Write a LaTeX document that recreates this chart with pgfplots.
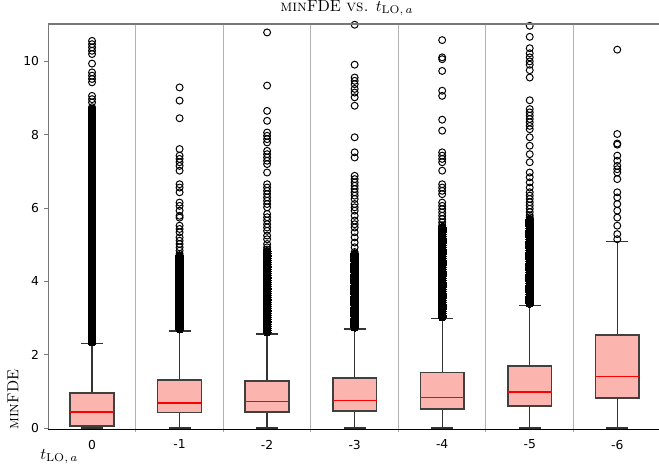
\documentclass[border=0pt]{standalone}
\usepackage{fontspec}
\usepackage{graphicx}
\usepackage{pgfplots}
\usepackage{pgfplotstable}
\pgfplotsset{compat=1.18}
\usepgfplotslibrary{statistics}
\newfontfamily\dejavu{DejaVu Sans}
\definecolor{boxfill}{RGB}{251,180,174}
\definecolor{spinegray}{RGB}{120,120,120}
\pgfplotsset{
  mybox/.style={
    black, mark=o, mark size=2.6pt,
    mark options={black, line width=0.75pt, solid},
  },
  dense/.style={
    only marks, mark=*, mark size=2.95pt,
    mark options={black, fill=black, line width=0pt},
  },
}
\pgfplotstableread[row sep=\\]{v\\
2.35\\2.40\\2.45\\2.50\\2.55\\2.60\\2.65\\2.70\\2.75\\2.80\\2.85\\2.90\\2.95\\3.00\\3.05\\3.10\\3.15\\3.20\\3.25\\3.30\\3.35\\3.40\\3.45\\3.50\\3.55\\3.60\\3.65\\3.70\\3.75\\3.80\\3.85\\3.90\\3.95\\4.00\\4.05\\4.10\\4.15\\4.20\\4.25\\4.30\\4.35\\4.40\\4.45\\4.50\\4.55\\4.60\\4.65\\4.70\\4.75\\4.80\\4.85\\4.90\\4.95\\5.00\\5.05\\5.10\\5.15\\5.20\\5.25\\5.30\\5.35\\5.40\\5.45\\5.50\\5.55\\5.60\\5.65\\5.70\\5.75\\5.80\\5.85\\5.90\\5.95\\6.00\\6.05\\6.10\\6.15\\6.20\\6.25\\6.30\\6.35\\6.40\\6.45\\6.50\\6.55\\6.60\\6.65\\6.70\\6.75\\6.80\\6.85\\6.90\\6.95\\7.00\\7.05\\7.10\\7.15\\7.20\\7.25\\7.30\\7.35\\7.40\\7.45\\7.50\\7.55\\7.60\\7.65\\7.70\\7.75\\7.80\\7.85\\7.90\\7.95\\8.00\\8.05\\8.10\\8.15\\8.20\\8.25\\8.30\\8.35\\8.40\\8.45\\8.50\\8.55\\8.60\\8.65\\8.70\\}\denseA
\pgfplotstableread[row sep=\\]{v\\
2.70\\2.75\\2.80\\2.85\\2.90\\2.95\\3.00\\3.05\\3.10\\3.15\\3.20\\3.25\\3.30\\3.35\\3.40\\3.45\\3.50\\3.55\\3.60\\3.65\\3.70\\3.75\\3.80\\3.85\\3.90\\3.95\\4.00\\4.05\\4.10\\4.15\\4.20\\4.25\\4.30\\4.35\\4.40\\4.45\\4.50\\4.55\\4.60\\4.65\\4.70\\}\denseB
\pgfplotstableread[row sep=\\]{v\\
2.62\\2.67\\2.72\\2.77\\2.82\\2.87\\2.92\\2.97\\3.02\\3.07\\3.12\\3.17\\3.22\\3.27\\3.32\\3.37\\3.42\\3.47\\3.52\\3.57\\3.62\\3.67\\3.72\\3.77\\3.82\\3.87\\3.92\\3.97\\4.02\\4.07\\4.12\\4.17\\4.22\\4.27\\4.32\\4.37\\4.42\\4.47\\4.52\\4.57\\4.62\\4.67\\4.72\\4.77\\4.82\\}\denseC
\pgfplotstableread[row sep=\\]{v\\
2.75\\2.80\\2.85\\2.90\\2.95\\3.00\\3.05\\3.10\\3.15\\3.20\\3.25\\3.30\\3.35\\3.40\\3.45\\3.50\\3.55\\3.60\\3.65\\3.70\\3.75\\3.80\\3.85\\3.90\\3.95\\4.00\\4.05\\4.10\\4.15\\4.20\\4.25\\4.30\\4.35\\4.40\\4.45\\4.50\\4.55\\4.60\\4.65\\4.70\\4.75\\}\denseD
\pgfplotstableread[row sep=\\]{v\\
3.03\\3.08\\3.13\\3.18\\3.23\\3.28\\3.33\\3.38\\3.43\\3.48\\3.53\\3.58\\3.63\\3.68\\3.73\\3.78\\3.83\\3.88\\3.93\\3.98\\4.03\\4.08\\4.13\\4.18\\4.23\\4.28\\4.33\\4.38\\4.43\\4.48\\4.53\\4.58\\4.63\\4.68\\4.73\\4.78\\4.83\\4.88\\4.93\\4.98\\5.03\\5.08\\5.13\\5.18\\5.23\\5.28\\5.33\\5.38\\5.43\\5.48\\}\denseE
\pgfplotstableread[row sep=\\]{v\\
3.40\\3.45\\3.50\\3.55\\3.60\\3.65\\3.70\\3.75\\3.80\\3.85\\3.90\\3.95\\4.00\\4.05\\4.10\\4.15\\4.20\\4.25\\4.30\\4.35\\4.40\\4.45\\4.50\\4.55\\4.60\\4.65\\4.70\\4.75\\4.80\\4.85\\4.90\\4.95\\5.00\\5.05\\5.10\\5.15\\5.20\\5.25\\5.30\\5.35\\5.40\\5.45\\5.50\\5.55\\5.60\\5.65\\5.70\\}\denseF
\begin{document}
\begin{tikzpicture}
\useasboundingbox (-36.2pt,-27.5pt) rectangle (458pt,322pt);
\begin{axis}[
  name=ax, at={(0,0)}, anchor=south west,
  scale only axis, width=458pt, height=304pt,
  xmin=-0.5, xmax=6.477, ymin=-0.035, ymax=11.02,
  axis x line*=bottom, axis y line*=left,
  x axis line style={black, line width=0.8pt, -},
  y axis line style={spinegray, line width=0.8pt, -},
  tick align=outside,
  major tick length=3pt, minor tick length=2pt,
  xtick={0,...,6}, xticklabels={0,-1,-2,-3,-4,-5,-6},
  major x tick style={draw=none},
  minor xtick={0.5,1.5,...,5.5},
  minor x tick style={black!35, line width=0.75pt},
  xminorgrids=true,
  minor x grid style={black!30, line width=0.75pt},
  ytick={0,2,...,10},
  y tick style={spinegray, line width=0.8pt},
  /pgf/number format/assume math mode=true,
  tick label style={font=\dejavu\fontsize{9.25}{11}\selectfont},
  xticklabel style={yshift=-1.4pt},
  yticklabel style={xshift=-0.4pt},
  boxplot/draw direction=y,
  boxplot/box extend=0.5,
  boxplot/whisker extend=0.25,
  boxplot/every box/.style={draw=black!75, fill=boxfill, line width=1.2pt},
  boxplot/every median/.style={red, line width=1.1pt},
  boxplot/every whisker/.style={black!80, line width=1pt},
]
% t = 0
\addplot[mybox, boxplot prepared={draw position=0, median=0.44, upper quartile=0.95, lower quartile=0.055, upper whisker=2.31, lower whisker=0.0}]
table[row sep=\\, y index=0] {v\\10.56\\10.47\\10.38\\10.29\\10.20\\9.94\\9.70\\9.61\\9.52\\9.43\\9.06\\8.97\\8.88\\8.75\\2.35\\};
\addplot[dense] table[x expr=0, y index=0] {\denseA};
% t = -1
\addplot[mybox, boxplot prepared={draw position=1, median=0.69, upper quartile=1.31, lower quartile=0.43, upper whisker=2.65, lower whisker=0.0}]
table[row sep=\\, y index=0] {v\\9.29\\8.93\\8.45\\7.61\\7.43\\7.34\\7.25\\7.15\\7.02\\6.65\\6.56\\6.43\\6.15\\6.06\\5.93\\5.79\\5.74\\5.52\\5.43\\5.34\\5.20\\5.11\\5.02\\4.93\\4.84\\4.75\\};
\addplot[dense] table[x expr=1, y index=0] {\denseB};
% t = -2
\addplot[mybox, boxplot prepared={draw position=2, median=0.73, upper quartile=1.29, lower quartile=0.445, upper whisker=2.57, lower whisker=0.0}]
table[row sep=\\, y index=0] {v\\10.79\\9.34\\8.65\\8.38\\8.06\\7.97\\7.88\\7.79\\7.56\\7.47\\7.38\\7.29\\7.20\\6.97\\6.65\\6.56\\6.47\\6.38\\6.29\\6.20\\6.11\\6.02\\5.84\\5.75\\5.66\\5.56\\5.47\\5.38\\5.25\\5.15\\5.02\\4.93\\4.87\\};
\addplot[dense] table[x expr=2, y index=0] {\denseC};
% t = -3
\addplot[mybox, boxplot prepared={draw position=3, median=0.755, upper quartile=1.36, lower quartile=0.47, upper whisker=2.70, lower whisker=0.0}]
table[row sep=\\, y index=0] {v\\11.00\\9.91\\9.56\\9.47\\9.38\\9.25\\9.15\\9.02\\8.79\\7.93\\7.52\\7.38\\6.88\\6.79\\6.70\\6.61\\6.52\\6.43\\6.34\\6.25\\6.11\\6.02\\5.93\\5.79\\5.66\\5.56\\5.47\\5.34\\5.20\\5.06\\4.93\\4.80\\};
\addplot[dense] table[x expr=3, y index=0] {\denseD};
% t = -4
\addplot[mybox, boxplot prepared={draw position=4, median=0.83, upper quartile=1.52, lower quartile=0.52, upper whisker=2.98, lower whisker=0.0}]
table[row sep=\\, y index=0] {v\\10.58\\10.11\\10.06\\9.74\\9.20\\9.06\\8.41\\8.11\\7.52\\7.43\\7.34\\7.25\\7.02\\6.65\\6.56\\6.47\\6.38\\6.15\\6.06\\5.97\\5.88\\5.79\\5.70\\5.61\\5.53\\};
\addplot[dense] table[x expr=4, y index=0] {\denseE};
% t = -5
\addplot[mybox, boxplot prepared={draw position=5, median=0.98, upper quartile=1.70, lower quartile=0.60, upper whisker=3.35, lower whisker=0.0}]
table[row sep=\\, y index=0] {v\\10.97\\10.67\\10.36\\10.22\\10.11\\10.00\\9.91\\9.76\\9.56\\8.94\\8.70\\8.61\\8.52\\8.43\\8.34\\8.24\\8.15\\7.93\\7.70\\7.47\\7.25\\6.97\\6.84\\6.70\\6.56\\6.43\\6.34\\6.25\\6.16\\6.07\\5.98\\5.89\\5.80\\5.75\\};
\addplot[dense] table[x expr=5, y index=0] {\denseF};
% t = -6
\addplot[mybox, boxplot prepared={draw position=6, median=1.40, upper quartile=2.54, lower quartile=0.82, upper whisker=5.09, lower whisker=0.0}]
table[row sep=\\, y index=0] {v\\10.32\\8.02\\7.76\\7.73\\7.43\\7.29\\7.15\\7.06\\6.97\\6.79\\6.43\\6.29\\6.11\\5.93\\5.74\\5.52\\5.29\\5.15\\};
\end{axis}
\draw[spinegray, line width=0.8pt] (ax.north west) -- (ax.north east);
\node[anchor=base west, inner sep=0] at ([xshift=173.8pt, yshift=9.5pt]ax.north west) {\resizebox{99.8pt}{!}{\textsc{min}FDE \textsc{vs.} $t_{\mathrm{LO},\,a}$}};
\node[rotate=90, anchor=base west, inner sep=0] at ([xshift=-22.5pt, yshift=-0.5pt]ax.south west) {\resizebox{45pt}{!}{\textsc{min}FDE}};
\node[anchor=base west, inner sep=0] at ([xshift=-6.2pt, yshift=-22.6pt]ax.south west) {\resizebox{28.5pt}{!}{$t_{\mathrm{LO},\,a}$}};
\end{tikzpicture}
\end{document}
